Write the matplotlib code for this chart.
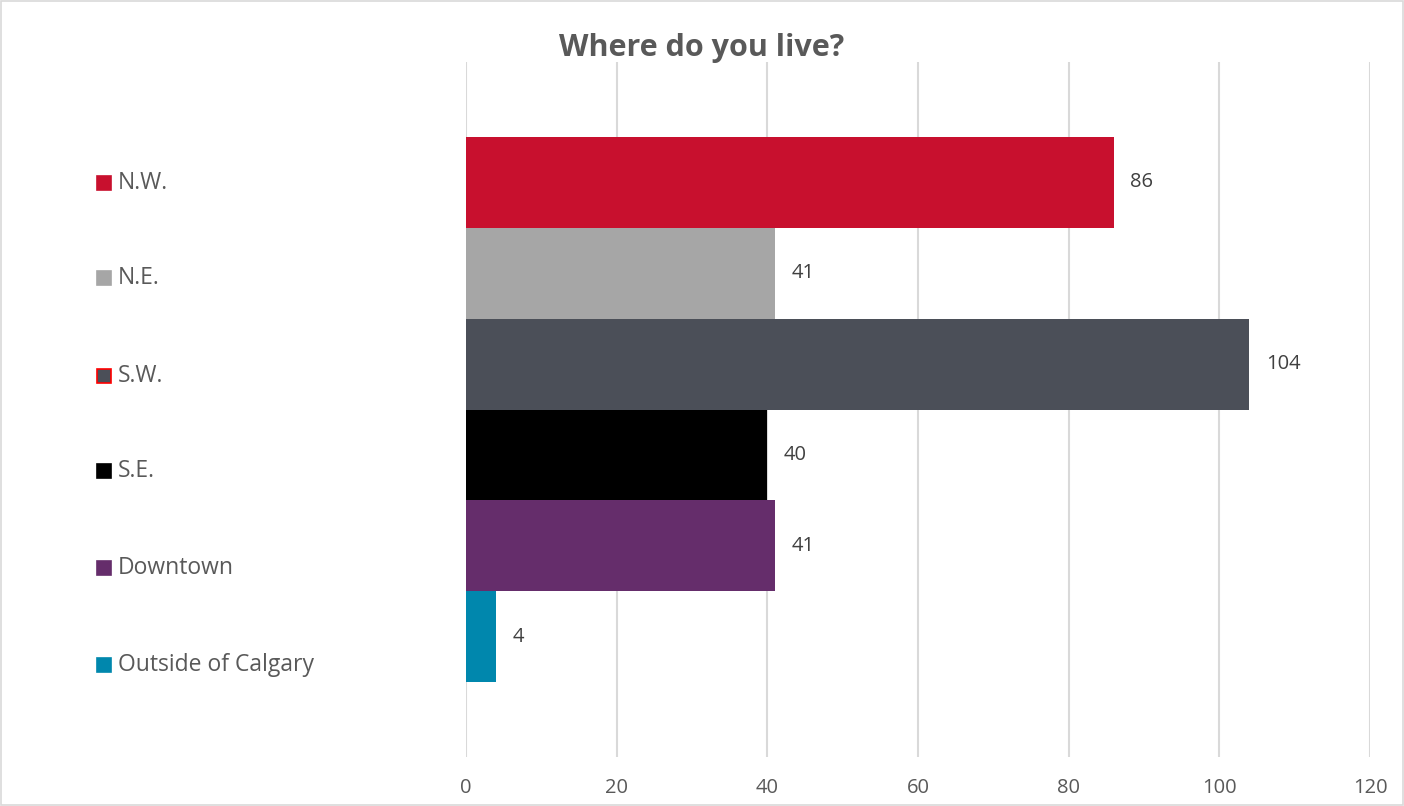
import matplotlib
matplotlib.use('Agg')
import matplotlib.pyplot as plt
from matplotlib.patches import Rectangle

regiones = ['N.W.', 'N.E.', 'S.W.', 'S.E.', 'Downtown', 'Outside of Calgary']
respuestas = [86, 41, 104, 40, 41, 4]
colores = ['#C8102E', '#A6A6A6', '#4B4F58', '#000000', '#652D6B', '#0087AD']
bordes = [None, None, '#FF0000', None, None, None]
ticks_x = [0, 20, 40, 60, 80, 100, 120]

plt.rcParams['font.family'] = ['Open Sans', 'DejaVu Sans']
gris_texto = '#595959'

fig = plt.figure(figsize=(14.04, 8.06), dpi=100)
fig.patch.set_facecolor('white')
fig.patches.append(Rectangle((0.0007, 0.0012), 0.9986, 0.9976, transform=fig.transFigure,
                             fill=False, edgecolor='#D9D9D9', linewidth=1.2))

ax = fig.add_axes([466 / 1404, 1 - 757 / 806, 904 / 1404, 695 / 806])
pos = list(range(len(regiones)))
ax.barh(pos, respuestas, height=1.0, color=colores, zorder=3)

for y, v in zip(pos, respuestas):
    ax.text(v + 2.2, y, str(v), va='center', ha='left', fontsize=14.5, color='#404040')

ax.set_xlim(0, 120)
ax.set_ylim(5.5 + 0.82, -0.5 - 0.82)
ax.set_xticks(ticks_x)
ax.set_xticklabels([str(t) for t in ticks_x], fontsize=14.5, color=gris_texto)
ax.set_yticks([])
ax.tick_params(axis='x', length=0, pad=15)
ax.grid(axis='x', color='#D9D9D9', linewidth=1.5, zorder=0)
for s in ax.spines.values():
    s.set_visible(False)

fig.text(0.5, 1 - 48 / 806, 'Where do you live?', ha='center', va='center',
         fontsize=22, fontweight='bold', color=gris_texto)

# leyenda a la izquierda
leyenda_y = [183, 278, 376, 471, 568, 665]
for nombre, c, b, yp in zip(regiones, colores, bordes, leyenda_y):
    yf = 1 - yp / 806
    fig.patches.append(Rectangle((97 / 1404, yf - 7 / 806), 14 / 1404, 14 / 806,
                                 transform=fig.transFigure, facecolor=c,
                                 edgecolor=b if b else c, linewidth=1.2))
    fig.text(118 / 1404, yf, nombre, ha='left', va='center', fontsize=16.5, color=gris_texto)

plt.savefig('out.png', dpi=100)
plt.close(fig)
